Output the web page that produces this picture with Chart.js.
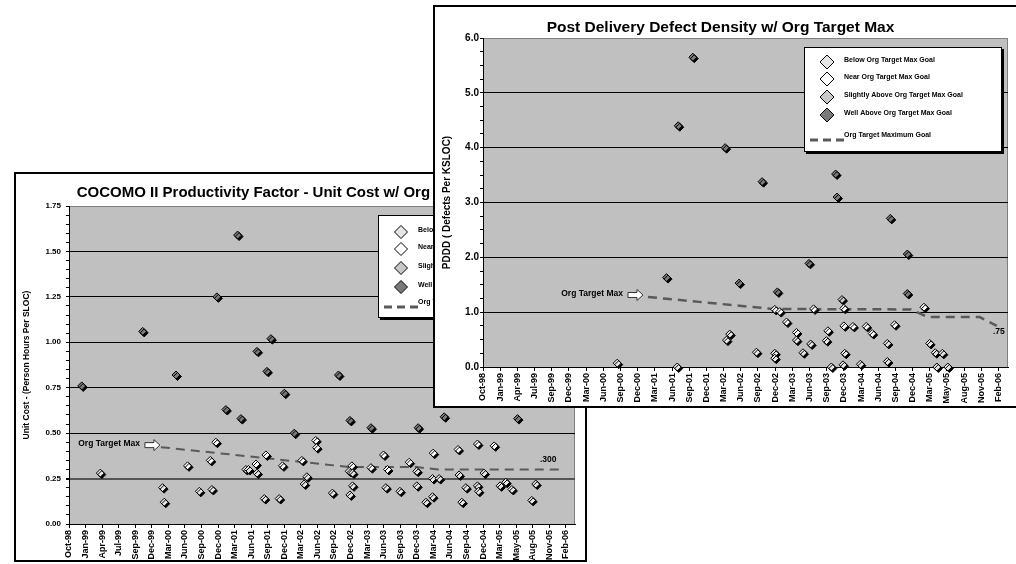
<!DOCTYPE html>
<html>
<head>
<meta charset="utf-8">
<title>Unit Cost and PDDD vs Org Target Max</title>
<script src="https://cdn.jsdelivr.net/npm/chart.js@4.4.0/dist/chart.umd.min.js"></script>
<style>
  html, body { margin: 0; padding: 0; background: #fff; overflow: hidden; }
  body { width: 1016px; height: 564px; position: relative; }
  canvas { position: absolute; }
  #costChart { left: 14px; top: 172px; z-index: 1; }
  #pdddChart { left: 433px; top: 5px; z-index: 2; }
</style>
</head>
<body>
<canvas id="costChart" width="573" height="390"></canvas>
<canvas id="pdddChart" width="593" height="403"></canvas>
<script>
// Shared date axis (one step per label)
const dateLabels = ['Oct-98', 'Jan-99', 'Apr-99', 'Jul-99', 'Sep-99', 'Dec-99', 'Mar-00', 'Jun-00',
  'Sep-00', 'Dec-00', 'Mar-01', 'Jun-01', 'Sep-01', 'Dec-01', 'Mar-02', 'Jun-02', 'Sep-02', 'Dec-02',
  'Mar-03', 'Jun-03', 'Sep-03', 'Dec-03', 'Mar-04', 'Jun-04', 'Sep-04', 'Dec-04', 'Mar-05', 'May-05',
  'Aug-05', 'Nov-05', 'Feb-06'];

const seriesNames = ['Below Org Target Max Goal', 'Near Org Target Max Goal',
  'Slightly Above Org Target Max Goal', 'Well Above Org Target Max Goal', 'Org Target Maximum Goal'];

// ---- Unit cost chart: [position on date axis, person hours per SLOC]
const costBelow = [[1.89, 0.28], [5.65, 0.20], [5.75, 0.12], [7.87, 0.18], [8.63, 0.19], [10.68, 0.30],
  [10.84, 0.30], [11.35, 0.28], [11.79, 0.14], [12.69, 0.14], [14.2, 0.22], [14.36, 0.26], [15.9, 0.17],
  [16.92, 0.29], [17.12, 0.28], [17.12, 0.21], [16.96, 0.16], [19.13, 0.20], [19.98, 0.18], [21.0, 0.29],
  [21.0, 0.21], [21.55, 0.12], [21.95, 0.25], [22.35, 0.25], [21.95, 0.15], [23.55, 0.27], [23.72, 0.12],
  [23.96, 0.20], [24.66, 0.21], [24.72, 0.18], [25.06, 0.28], [26.03, 0.21], [26.37, 0.23], [26.74, 0.19],
  [27.94, 0.13], [28.18, 0.22]];
const costNear = [[7.16, 0.32], [8.53, 0.35], [8.87, 0.45], [11.29, 0.33], [11.89, 0.38], [12.89, 0.32],
  [14.06, 0.35], [14.9, 0.46], [14.95, 0.42], [17.08, 0.32], [18.23, 0.31], [18.99, 0.38], [19.23, 0.30],
  [20.54, 0.34], [21.99, 0.39], [23.49, 0.41], [24.66, 0.44], [25.67, 0.43]];
const costSlightly = [];
const costWell = [[0.77, 0.76], [4.45, 1.06], [6.46, 0.82], [8.93, 1.25], [9.47, 0.63], [10.18, 1.59],
  [10.38, 0.58], [11.35, 0.95], [11.95, 0.84], [12.19, 1.02], [13.0, 0.72], [13.6, 0.50], [16.27, 0.82],
  [16.96, 0.57], [18.23, 0.53], [21.08, 0.53], [22.65, 0.59], [27.08, 0.58]];
const costTarget = [[5.55, 0.423], [17.0, 0.313], [21.0, 0.313], [22.3, 0.30], [29.6, 0.30]];

// ---- PDDD chart: [position on date axis, defects per KSLOC]
const pdddBelow = [[7.81, 0.07], [11.3, 0.0], [14.17, 0.49], [14.36, 0.60], [15.91, 0.27], [16.98, 0.25],
  [16.98, 0.16], [18.24, 0.49], [18.62, 0.26], [19.07, 0.42], [19.98, 0.48], [20.27, 0.0], [20.95, 0.04],
  [21.05, 0.25], [21.96, 0.05], [23.53, 0.43], [23.53, 0.10], [25.99, 0.43], [26.32, 0.26], [26.73, 0.25],
  [26.41, 0.0], [27.05, 0.0]];
const pdddNear = [[16.98, 1.05], [17.27, 1.01], [17.66, 0.82], [18.24, 0.63], [19.24, 1.06], [20.07, 0.66],
  [21.0, 1.07], [21.0, 0.75], [21.53, 0.74], [22.3, 0.74], [22.65, 0.61], [23.95, 0.77], [25.66, 1.09]];
const pdddSlightly = [[20.89, 1.23]];
const pdddWell = [[10.68, 1.63], [11.36, 4.40], [12.21, 5.65], [14.09, 4.00], [14.9, 1.53], [16.24, 3.38],
  [17.13, 1.37], [18.97, 1.89], [20.52, 3.52], [20.6, 3.10], [23.7, 2.71], [24.69, 2.06], [24.69, 1.34]];
const pdddTarget = [[9.6, 1.277], [16.9, 1.058], [24.9, 1.05], [25.9, 0.91], [28.9, 0.91], [29.9, 0.75]];

const markerFills = ['#e6e6e6', '#ffffff', '#c8c8c8', '#7a7a7a'];
const FONT = 'Arial, "Liberation Sans", sans-serif';
Chart.defaults.font.family = FONT;
Chart.defaults.color = '#000';

const toXY = pairs => pairs.map(p => ({ x: p[0], y: p[1] }));

function makeDatasets(groups, target, lineWidth) {
  const sets = groups.map((g, i) => ({
    label: seriesNames[i],
    data: toXY(g),
    pointStyle: 'rectRot',
    pointRadius: 4,
    pointBackgroundColor: markerFills[i],
    pointBorderColor: '#000',
    pointBorderWidth: 1,
    showLine: false,
    clip: false,
    shadow: true
  }));
  sets.push({
    label: seriesNames[4],
    data: toXY(target),
    showLine: true,
    borderColor: '#5a5a5a',
    borderWidth: lineWidth,
    borderDash: [9, 6],
    pointRadius: 0,
    fill: false
  });
  return sets;
}

function diamond(ctx, x, y, r) {
  ctx.beginPath();
  ctx.moveTo(x - r, y); ctx.lineTo(x, y - r); ctx.lineTo(x + r, y); ctx.lineTo(x, y + r);
  ctx.closePath();
}

// white page, grey plot area, black frame
const framePlugin = {
  id: 'frame',
  beforeDraw(chart) {
    const { ctx, width, height, chartArea: a } = chart;
    ctx.save();
    ctx.fillStyle = '#fff';
    ctx.fillRect(0, 0, width, height);
    ctx.fillStyle = '#c0c0c0';
    ctx.fillRect(a.left, a.top, a.right - a.left, a.bottom - a.top);
    ctx.strokeStyle = '#808080';
    ctx.lineWidth = 1;
    ctx.beginPath();
    ctx.moveTo(a.left, a.top + 0.5);
    ctx.lineTo(a.right - 0.5, a.top + 0.5);
    ctx.lineTo(a.right - 0.5, a.bottom);
    ctx.stroke();
    ctx.restore();
  },
  afterDraw(chart) {
    const { ctx, width, height } = chart;
    ctx.save();
    ctx.strokeStyle = '#000';
    ctx.lineWidth = 2;
    ctx.strokeRect(1, 1, width - 2, height - 2);
    ctx.restore();
  }
};

// black drop shadow under the diamonds
const shadowPlugin = {
  id: 'markerShadow',
  beforeDatasetDraw(chart, args) {
    const ctx = chart.ctx;
    ctx.save();
    if (chart.data.datasets[args.index].shadow) {
      ctx.shadowColor = '#000';
      ctx.shadowOffsetX = 1.5;
      ctx.shadowOffsetY = 1.5;
      ctx.shadowBlur = 0;
    }
  },
  afterDatasetDraw(chart) {
    chart.ctx.restore();
  }
};

// "Org Target Max" arrow callout and the end value of the target line
const targetNotes = {
  id: 'targetNotes',
  afterDatasetsDraw(chart, args, o) {
    const pts = chart.getDatasetMeta(4).data;
    const first = pts[0], last = pts[pts.length - 1];
    const ctx = chart.ctx;
    const tip = first.x - o.gap, y = first.y - 2;
    ctx.save();
    ctx.beginPath();
    ctx.moveTo(tip - 15, y - 2.5); ctx.lineTo(tip - 6, y - 2.5); ctx.lineTo(tip - 6, y - 5.5);
    ctx.lineTo(tip, y); ctx.lineTo(tip - 6, y + 5.5); ctx.lineTo(tip - 6, y + 2.5); ctx.lineTo(tip - 15, y + 2.5);
    ctx.closePath();
    ctx.fillStyle = '#fff';
    ctx.fill();
    ctx.strokeStyle = '#333';
    ctx.lineWidth = 1;
    ctx.stroke();
    ctx.fillStyle = '#000';
    ctx.font = 'bold 8.5px ' + FONT;
    ctx.textBaseline = 'middle';
    ctx.textAlign = 'right';
    ctx.fillText('Org Target Max', tip - 20, y - 1);
    ctx.textAlign = 'center';
    ctx.fillText(o.endLabel, last.x + o.endDx, last.y + o.endDy);
    ctx.restore();
  }
};

// boxed legend inside the plot
const boxLegend = {
  id: 'boxLegend',
  afterDraw(chart, args, o) {
    const ctx = chart.ctx;
    ctx.save();
    ctx.fillStyle = '#000';
    ctx.fillRect(o.x + 2, o.y + 2, o.w, o.h);
    ctx.fillStyle = '#fff';
    ctx.fillRect(o.x, o.y, o.w, o.h);
    ctx.strokeStyle = '#000';
    ctx.lineWidth = 1;
    ctx.strokeRect(o.x + 0.5, o.y + 0.5, o.w - 1, o.h - 1);
    ctx.font = 'bold 7px ' + FONT;
    ctx.textBaseline = 'middle';
    ctx.textAlign = 'left';
    chart.data.datasets.forEach((ds, i) => {
      if (ds.showLine) {
        ctx.strokeStyle = ds.borderColor;
        ctx.lineWidth = 3;
        ctx.setLineDash([8, 5]);
        ctx.beginPath();
        ctx.moveTo(o.x + 6, o.y + o.dashY);
        ctx.lineTo(o.x + 42, o.y + o.dashY);
        ctx.stroke();
        ctx.setLineDash([]);
        ctx.fillStyle = '#000';
        ctx.fillText(ds.label, o.x + 40, o.y + o.dashY - 5);
      } else {
        const ry = o.y + o.rows[i];
        diamond(ctx, o.x + 23, ry, o.r);
        ctx.fillStyle = ds.pointBackgroundColor;
        ctx.fill();
        ctx.strokeStyle = '#000';
        ctx.lineWidth = 1;
        ctx.stroke();
        ctx.fillStyle = '#000';
        ctx.fillText(ds.label, o.x + 40, ry - 1.5);
      }
    });
    ctx.restore();
  }
};

function stepTicks(max, step) {
  const t = [];
  for (let i = 0; i * step <= max + 1e-9; i++) t.push({ value: +(i * step).toFixed(4) });
  return t;
}

function makeChart(id, cfg) {
  return new Chart(document.getElementById(id), {
    type: 'scatter',
    data: { datasets: cfg.datasets },
    options: {
      responsive: false,
      animation: false,
      layout: { padding: { left: 0, right: cfg.padRight, top: 0, bottom: 0 } },
      plugins: {
        legend: { display: false },
        tooltip: { enabled: false },
        title: {
          display: true,
          text: cfg.title,
          color: '#000',
          font: { size: cfg.titleSize, weight: 'bold' },
          padding: cfg.titlePad
        },
        boxLegend: cfg.legend,
        targetNotes: cfg.notes
      },
      scales: {
        x: {
          type: 'linear',
          min: 0,
          max: 30.55,
          afterBuildTicks: s => { s.ticks = dateLabels.map((l, i) => ({ value: i })); },
          afterFit: s => { s.height = cfg.xHeight; },
          ticks: {
            autoSkip: false,
            maxRotation: 90,
            minRotation: 90,
            padding: 2,
            font: { size: 9, weight: 'bold' },
            callback: v => dateLabels[v]
          },
          grid: { drawOnChartArea: false, drawTicks: true, tickLength: 4, tickColor: '#000' },
          border: { color: '#000', width: 1 }
        },
        y: {
          min: 0,
          max: cfg.yMax,
          afterBuildTicks: s => { s.ticks = stepTicks(cfg.yMax, cfg.minorStep); },
          afterFit: s => { s.width = cfg.yWidth; },
          title: {
            display: true,
            text: cfg.yTitle,
            font: { size: cfg.yTitleSize, weight: 'bold' },
            padding: { top: 8, bottom: 0 }
          },
          ticks: {
            autoSkip: false,
            padding: cfg.tickPad,
            font: { size: cfg.yTickSize, weight: 'bold' },
            callback: (v, i) => (i % cfg.majorEvery === 0 ? v.toFixed(cfg.decimals) : '')
          },
          grid: {
            drawTicks: true,
            tickLength: 3,
            tickColor: '#000',
            color: c => {
              if (c.index % cfg.majorEvery) return 'rgba(0,0,0,0)';
              if (c.tick && Math.abs(c.tick.value - cfg.yMax) < 1e-6) return '#808080';
              if (c.tick && Math.abs(c.tick.value - cfg.heavyLine) < 1e-6) return '#555';
              return '#000';
            },
            lineWidth: c => (c.tick && Math.abs(c.tick.value - cfg.heavyLine) < 1e-6 ? 2 : 1)
          },
          border: { color: '#000', width: 1 }
        }
      }
    },
    plugins: [framePlugin, shadowPlugin, targetNotes, boxLegend]
  });
}

makeChart('costChart', {
  datasets: makeDatasets([costBelow, costNear, costSlightly, costWell], costTarget, 2),
  title: 'COCOMO II Productivity Factor - Unit Cost w/ Org Target Max',
  titleSize: 15,
  titlePad: { top: 12, bottom: 4 },
  padRight: 12,
  xHeight: 38,
  yWidth: 55,
  yMax: 1.75,
  minorStep: 0.05,
  majorEvery: 5,
  decimals: 2,
  heavyLine: 0.25,
  tickPad: 5,
  yTickSize: 8,
  yTitle: 'Unit Cost - (Person Hours Per SLOC)',
  yTitleSize: 8.5,
  legend: { x: 364, y: 43, w: 198, h: 103, r: 6.5, rows: [17, 34, 53, 72], dashY: 92 },
  notes: { gap: 1, endLabel: '.300', endDx: -11, endDy: -10 }
});

makeChart('pdddChart', {
  datasets: makeDatasets([pdddBelow, pdddNear, pdddSlightly, pdddWell], pdddTarget, 2.5),
  title: 'Post Delivery Defect Density w/ Org Target Max',
  titleSize: 15.5,
  titlePad: { top: 13, bottom: 1.4 },
  padRight: 18,
  xHeight: 41,
  yWidth: 50,
  yMax: 6,
  minorStep: 0.25,
  majorEvery: 4,
  decimals: 1,
  heavyLine: -1,
  tickPad: 1,
  yTickSize: 10,
  yTitle: 'PDDD ( Defects Per KSLOC)',
  yTitleSize: 10,
  legend: { x: 371, y: 42, w: 198, h: 105, r: 7, rows: [15, 32, 50, 68], dashY: 93 },
  notes: { gap: 5, endLabel: '.75', endDx: 2, endDy: 6 }
});
</script>
</body>
</html>
